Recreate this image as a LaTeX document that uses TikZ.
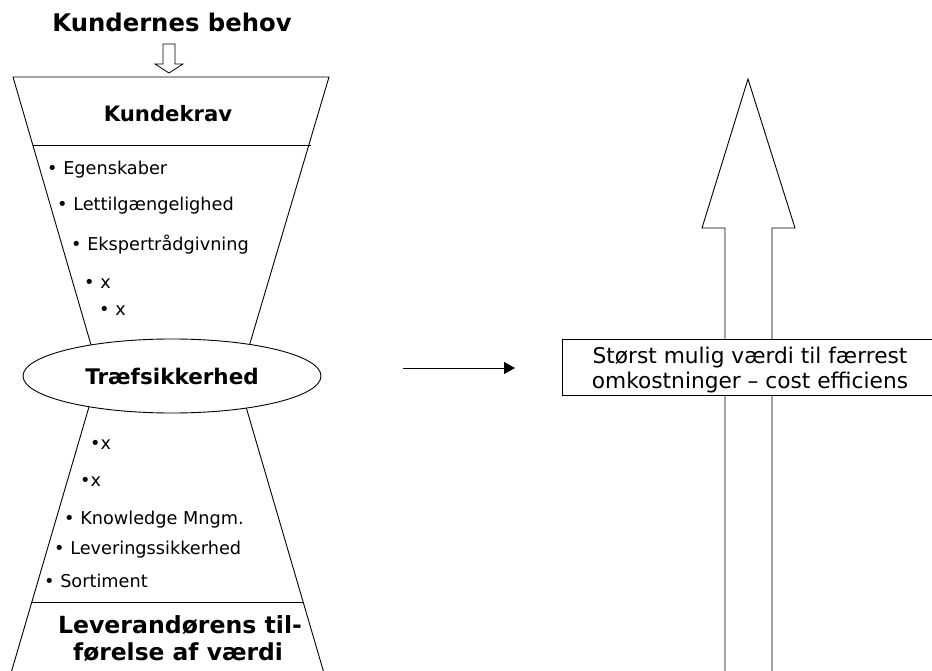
\documentclass[tikz,border=0pt]{standalone}
\usepackage{fontspec}
\setmainfont{DejaVu Sans}
\usetikzlibrary{shapes.geometric,arrows.meta}
\tikzset{
  line/.style={draw=black,line width=0.9pt},
  item/.style={anchor=base west,inner sep=0pt,font=\fontsize{17.7}{20}\selectfont},
  btitle/.style={anchor=base,inner sep=0pt,font=\fontsize{21}{26}\bfseries},
}
\begin{document}
\begin{tikzpicture}[x=1pt,y=-1pt]
\useasboundingbox (0,0) rectangle (932,671);
\clip (0,0) rectangle (932,671);
% title
\node[btitle,font=\fontsize{24.3}{28}\selectfont\bfseries] (title) at (172,32) {Kundernes behov};
% hollow down arrow
\draw[line,line width=0.8pt] (163,44)--(175,44)--(175,64)--(183,64)--(169,73)--(155,64)--(163,64)--cycle;
% upper funnel
\draw[line] (92.5,350)--(13,77)--(329,77)--(248,350);
\draw[line] (33,145)--(311,145);
% lower funnel
\draw[line] (91,400)--(9,680);
\draw[line] (244,400)--(326,680);
\draw[line] (32,602)--(303,602);
% ellipse
\node[ellipse,line,fill=white,minimum width=298pt,minimum height=74pt,inner sep=0pt,
      font=\fontsize{21.5}{26}\selectfont\bfseries] (ell) at (172,376) {Træfsikkerhed};
% headings
\node[btitle,font=\fontsize{21.2}{26}\selectfont\bfseries] (kk) at (168,122) {Kundekrav};
\node[btitle,font=\fontsize{23.6}{26}\selectfont\bfseries] (lev1) at (180,633) {Leverandørens til-};
\node[btitle,font=\fontsize{23.4}{26}\selectfont\bfseries] (lev2) at (178,660) {førelse af værdi};
% upper items
\node[item] (u1) at (47,175) {• Egenskaber};
\node[item] (u2) at (57,211) {• Lettilgængelighed};
\node[item] (u3) at (71,251) {• Ekspertrådgivning};
\node[item] (u4) at (84,288) {• x};
\node[item] (u5) at (99,315) {• x};
% lower items
\node[item] (l1) at (90,449) {•x};
\node[item] (l2) at (80,486) {•x};
\node[item] (l3) at (64,524) {• Knowledge Mngm.};
\node[item] (l4) at (54,554) {• Leveringssikkerhed};
\node[item] (l5) at (44,587) {• Sortiment};
% right arrow
\coordinate (ra) at (403,368);
\coordinate (rb) at (515,368);
\draw[line,-{Triangle[length=11pt,width=12pt]}] (ra) -- (rb);
% big up arrow
\draw[line] (725,680)--(725,228)--(702,228)--(748,79)--(795,228)--(772,228)--(772,680);
% box
\node[line,fill=white,anchor=north west,minimum width=390pt,minimum height=56pt,inner sep=0pt] (box) at (562,339) {};
\node[anchor=base,inner sep=0pt,font=\fontsize{21.7}{25}\selectfont] (bt1) at (750,363) {Størst mulig værdi til færrest};
\node[anchor=base,inner sep=0pt,font=\fontsize{21.7}{25}\selectfont] (bt2) at (750,388) {omkostninger – cost efficiens};
\end{tikzpicture}
\end{document}
